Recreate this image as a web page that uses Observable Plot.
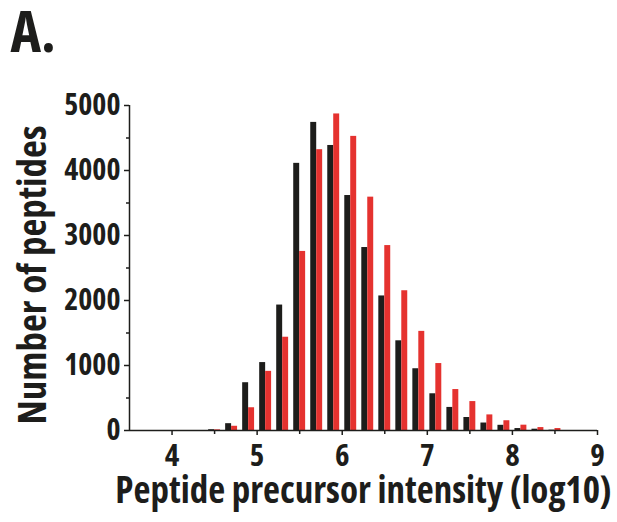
<!DOCTYPE html>
<html>
<head>
<meta charset="utf-8">
<script src="https://cdn.jsdelivr.net/npm/d3@7"></script>
<script src="https://cdn.jsdelivr.net/npm/@observablehq/plot@0.6"></script>
<style>
  html, body { margin: 0; padding: 0; background: #fff; }
</style>
</head>
<body>
<div id="chart"></div>
<script>
// Bin centres (log10 intensity, bin width 0.2)
const binCenters = [4.5, 4.7, 4.9, 5.1, 5.3, 5.5, 5.7, 5.9, 6.1, 6.3, 6.5, 6.7, 6.9, 7.1, 7.3, 7.5, 7.7, 7.9, 8.1, 8.3, 8.5];
// Series 1 (black) counts
const blackCounts = [12, 105, 735, 1045, 1930, 4110, 4740, 4385, 3615, 2815, 2070, 1380, 950, 565, 355, 200, 115, 80, 30, 20, 5];
// Series 2 (red) counts
const redCounts = [10, 65, 350, 910, 1435, 2755, 4320, 4870, 4525, 3590, 2845, 2150, 1525, 1030, 630, 445, 240, 150, 82, 45, 30];

const xTicks = [4, 5, 6, 7, 8, 9];
const xMinorTicks = [4.5, 5.5, 6.5, 7.5, 8.5];
const yTicks = [0, 1000, 2000, 3000, 4000, 5000];
const yMinorTicks = [500, 1500, 2500, 3500, 4500];

const panelLabel = "A.";
const xLabel = "Peptide precursor intensity (log10)";
const yLabel = "Number of peptides";

const barHalf = 0.07;
const blackData = binCenters.map((c, i) => ({c, v: blackCounts[i]}));
const redData = binCenters.map((c, i) => ({c, v: redCounts[i]}));

const ink = "#1d1d1b";
const red = "#e5322f";
const font = "'Open Sans', 'Roboto', sans-serif";

const chart = Plot.plot({
  width: 617,
  height: 522,
  marginLeft: 129,
  marginRight: 20,
  marginTop: 105,
  marginBottom: 92,
  style: {fontFamily: font, fontWeight: "bold", fontStretch: "87.5%", color: ink, background: "#fff"},
  x: {domain: [3.5, 9]},
  y: {domain: [0, 5000]},
  marks: [
    Plot.rectY(blackData, {x1: d => d.c - barHalf, x2: d => d.c, y: "v", fill: ink}),
    Plot.rectY(redData, {x1: d => d.c, x2: d => d.c + barHalf, y: "v", fill: red}),
    Plot.ruleY([0], {stroke: ink, strokeWidth: 1.5}),
    Plot.ruleX([3.5], {stroke: ink, strokeWidth: 1.5}),
    Plot.axisX({ticks: xTicks, tickSize: 5, tickPadding: 8, fontSize: 31, tickFormat: d => String(d), label: null, stroke: ink, strokeWidth: 1.5}),
    Plot.axisX({ticks: xMinorTicks, tickSize: 4, tickFormat: () => "", label: null, stroke: ink, strokeWidth: 1.5}),
    Plot.axisY({ticks: yTicks, tickSize: 5, tickPadding: 4, fontSize: 30, tickFormat: d => String(d), label: null, stroke: ink, strokeWidth: 1.5}),
    Plot.axisY({ticks: yMinorTicks, tickSize: 3, tickFormat: () => "", label: null, stroke: ink, strokeWidth: 1.5}),
    Plot.text([yLabel], {frameAnchor: "left", dx: -96, dy: 7, rotate: -90, textAnchor: "middle", lineAnchor: "middle", fontSize: 39, fontWeight: "bold", fill: ink}),
    Plot.text([xLabel], {frameAnchor: "bottom", dy: 61, textAnchor: "middle", lineAnchor: "middle", fontSize: 37, fontWeight: "bold", fill: ink}),
    Plot.text([panelLabel], {frameAnchor: "top-left", dx: -119, dy: -95, textAnchor: "start", lineAnchor: "top", fontSize: 58, fontWeight: "bold", fill: ink})
  ]
});
document.getElementById("chart").appendChild(chart);
</script>
</body>
</html>
